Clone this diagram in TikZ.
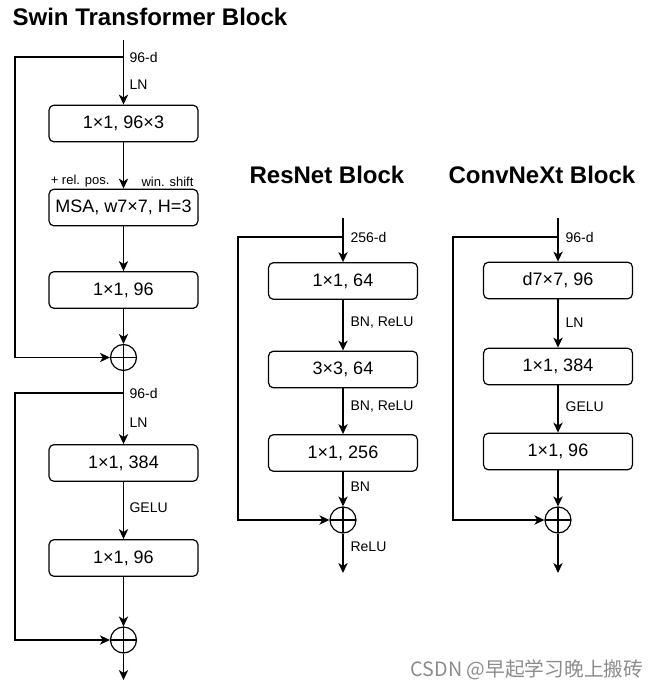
\documentclass[tikz,border=0pt]{standalone}
\usepackage{fontspec}
\setmainfont{Liberation Sans}
\newfontfamily\cjk{Noto Sans CJK SC}
\usetikzlibrary{arrows.meta,calc}
\begin{document}
\begin{tikzpicture}[x=0.75pt,y=-0.75pt, line width=0.9pt,
  >={Stealth[length=7.5pt,width=7pt,inset=2.2pt]},
  box/.style={draw, rounded corners=3.75pt, minimum width=111.75pt, minimum height=27.5pt, inner sep=0pt, font=\fontsize{13.5}{15}\selectfont},
  lbl/.style={inner sep=0pt, font=\fontsize{10.5}{12}\selectfont},
  slbl/.style={inner sep=0pt, font=\fontsize{9.75}{11}\selectfont},
  ttl/.style={inner sep=0pt, font=\bfseries\fontsize{18}{21}\selectfont},
  sum/.style={draw, circle, minimum size=19.5pt, inner sep=0pt,
    path picture={\draw (path picture bounding box.north) -- (path picture bounding box.south)
      (path picture bounding box.west) -- (path picture bounding box.east);}}]
\useasboundingbox (0,0) rectangle (656,688);

% ---------------- Swin ----------------
\node[ttl, anchor=base west] (tsw) at (12,26) {Swin Transformer Block};
\node[box] (w1) at (123.5,123.5) {1×1, 96×3};
\node[box] (w2) at (123.5,207.5) {MSA, w7×7, H=3};
\node[box] (w3) at (123.5,290) {1×1, 96};
\node[sum] (ws1) at (123.5,357.5) {};
\node[box] (w4) at (123.5,463) {1×1, 384};
\node[box] (w5) at (123.5,558) {1×1, 96};
\node[sum] (ws2) at (123.5,640) {};
\coordinate (win) at (123.5,40);
\coordinate (wk1) at (123.5,57);
\coordinate (wk1l) at (15,57);
\coordinate (wk2) at (123.5,393);
\coordinate (wk2l) at (15,393);
\coordinate (wout) at (123.5,680);
\node[lbl, anchor=west] (lw1) at (129,57) {96-d};
\node[lbl, anchor=west] (lw2) at (129,85) {LN};
\node[slbl, anchor=east] (lw3) at (110,181) {+ rel. pos.};
\node[slbl, anchor=west] (lw4) at (141,182) {win. shift};
\node[lbl, anchor=west] (lw5) at (129,393) {96-d};
\node[lbl, anchor=west] (lw6) at (129,423) {LN};
\node[lbl, anchor=west] (lw7) at (129,508) {GELU};
\draw[->] (win) -- (w1.north);
\draw[->] (w1) -- (w2);
\draw[->] (w2) -- (w3);
\draw[->] (w3) -- (ws1);
\draw[->] (wk1) -- (wk1l) |- (ws1.west);
\draw[->] (ws1) -- (w4);
\draw[->] (wk2) -- (wk2l) |- (ws2.west);
\draw[->] (w4) -- (w5);
\draw[->] (w5) -- (ws2);
\draw[->] (ws2) -- (wout);

% ---------------- ResNet ----------------
\node[ttl, anchor=base] (tr) at (327,183) {ResNet Block};
\node[box] (r1) at (343,281) {1×1, 64};
\node[box] (r2) at (343,369.5) {3×3, 64};
\node[box] (r3) at (343,453) {1×1, 256};
\node[sum] (rs) at (343,520) {};
\coordinate (rin) at (343,218);
\coordinate (rk) at (343,237);
\coordinate (rkl) at (238,237);
\coordinate (rout) at (343,573);
\node[lbl, anchor=west] (lr1) at (350,237) {256-d};
\node[lbl, anchor=west] (lr2) at (350,323) {BN, ReLU};
\node[lbl, anchor=west] (lr3) at (350,407) {BN, ReLU};
\node[lbl, anchor=west] (lr4) at (350,487) {BN};
\node[lbl, anchor=west] (lr5) at (350,547) {ReLU};
\draw[->] (rin) -- (r1.north);
\draw[->] (r1) -- (r2);
\draw[->] (r2) -- (r3);
\draw[->] (r3) -- (rs);
\draw[->] (rk) -- (rkl) |- (rs.west);
\draw[->] (rs) -- (rout);

% ---------------- ConvNeXt ----------------
\node[ttl, anchor=base] (tc) at (542,183) {ConvNeXt Block};
\node[box] (c1) at (558,280.5) {d7×7, 96};
\node[box] (c2) at (558,366.5) {1×1, 384};
\node[box] (c3) at (558,451.5) {1×1, 96};
\node[sum] (cs) at (558,520) {};
\coordinate (cin) at (558,218);
\coordinate (ck) at (558,237);
\coordinate (ckl) at (453,237);
\coordinate (cout) at (558,573);
\node[lbl, anchor=west] (lc1) at (565,237) {96-d};
\node[lbl, anchor=west] (lc2) at (565,323) {LN};
\node[lbl, anchor=west] (lc3) at (565,407) {GELU};
\draw[->] (cin) -- (c1.north);
\draw[->] (c1) -- (c2);
\draw[->] (c2) -- (c3);
\draw[->] (c3) -- (cs);
\draw[->] (ck) -- (ckl) |- (cs.west);
\draw[->] (cs) -- (cout);

% watermark
\node[inner sep=0pt, anchor=base west, text=black!45, font=\cjk\fontsize{14.8}{16}\selectfont] (wm) at (410,676) {CSDN @早起学习晚上搬砖};
\end{tikzpicture}
\end{document}
